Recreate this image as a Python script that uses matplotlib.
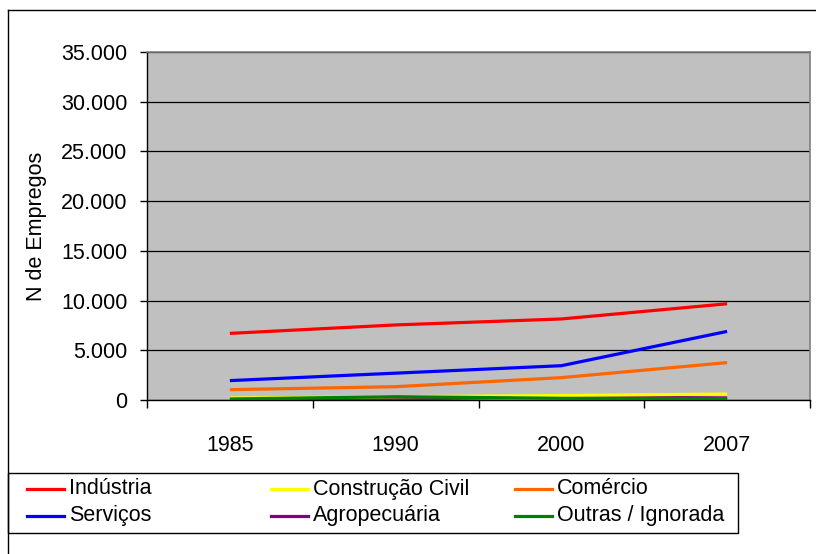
import matplotlib.pyplot as plt
from matplotlib.lines import Line2D
from matplotlib.patches import Rectangle
import matplotlib.ticker as ticker

plt.rcParams['font.family'] = ['Liberation Sans', 'DejaVu Sans']

# Datos
anos = ['1985', '1990', '2000', '2007']
industria = [6700, 7550, 8150, 9680]
construcao = [200, 330, 450, 600]
comercio = [1040, 1340, 2250, 3760]
servicos = [1950, 2700, 3450, 6900]
agropecuaria = [30, 100, 330, 200]
outras = [100, 330, 170, 130]

series = [
    ('Indústria', industria, '#FF0000'),
    ('Construção Civil', construcao, '#FFFF00'),
    ('Comércio', comercio, '#FF6600'),
    ('Serviços', servicos, '#0000FF'),
    ('Agropecuária', agropecuaria, '#800080'),
    ('Outras / Ignorada', outras, '#008000'),
]

W, H = 816, 554
FS = 15.5
fig = plt.figure(figsize=(W / 100, H / 100), dpi=100)

def fx(x):
    return x / W

def fy(y):
    return 1 - y / H

# area del grafico
ax = fig.add_axes([fx(147), fy(400), fx(810) - fx(147), fy(52) - fy(400)])
ax.set_facecolor('#C0C0C0')

x = list(range(len(anos)))
# orden de dibujo: las pequeñas arriba como en el original
orden = [0, 3, 2, 4, 1, 5]
for i in orden:
    nombre, vals, color = series[i]
    ax.plot(x, vals, color=color, lw=2.3, solid_capstyle='butt', zorder=3)

ax.set_xlim(-0.5, 3.5)
ax.set_ylim(0, 35000)
ax.yaxis.set_major_locator(ticker.MultipleLocator(5000))
ax.yaxis.set_major_formatter(ticker.FuncFormatter(lambda v, p: f'{int(v):,}'.replace(',', '.')))
ax.grid(axis='y', color='black', lw=0.9, zorder=1)
ax.set_axisbelow(True)

ax.set_xticks(x)
ax.set_xticklabels(anos)
ax.set_xticks([-0.5, 0.5, 1.5, 2.5, 3.5], minor=True)
ax.tick_params(axis='x', which='major', length=0, pad=25, labelsize=FS)
ax.tick_params(axis='x', which='minor', length=6, direction='out', width=1)
ax.tick_params(axis='y', length=5, width=1, pad=9, labelsize=FS)

for s in ['left', 'bottom']:
    ax.spines[s].set_color('black')
    ax.spines[s].set_linewidth(1)
for s in ['top', 'right']:
    ax.spines[s].set_color('#808080')
    ax.spines[s].set_linewidth(1.2)

ax.set_ylabel('N de Empregos', fontsize=FS, labelpad=10)

# marco exterior
fig.add_artist(Line2D([fx(8), fx(8)], [fy(10), 0], transform=fig.transFigure, color='black', lw=1))
fig.add_artist(Line2D([fx(8), 1], [fy(10), fy(10)], transform=fig.transFigure, color='black', lw=1))

# leyenda
fig.add_artist(Rectangle((fx(8), fy(533)), fx(738) - fx(8), fy(473) - fy(533),
                         transform=fig.transFigure, facecolor='white', edgecolor='black', lw=1))
col_x = [27, 271, 515]
fila_y = [489, 516]
for k, (nombre, vals, color) in enumerate(series):
    c, r = k % 3, k // 3
    x0 = col_x[c]
    y0 = fila_y[r]
    fig.add_artist(Line2D([fx(x0), fx(x0 + 37)], [fy(y0), fy(y0)], transform=fig.transFigure,
                          color=color, lw=2.3))
    fig.text(fx(x0 + 42), fy(y0), nombre, fontsize=FS, va='center', ha='left')

fig.savefig('out.png', dpi=100)
